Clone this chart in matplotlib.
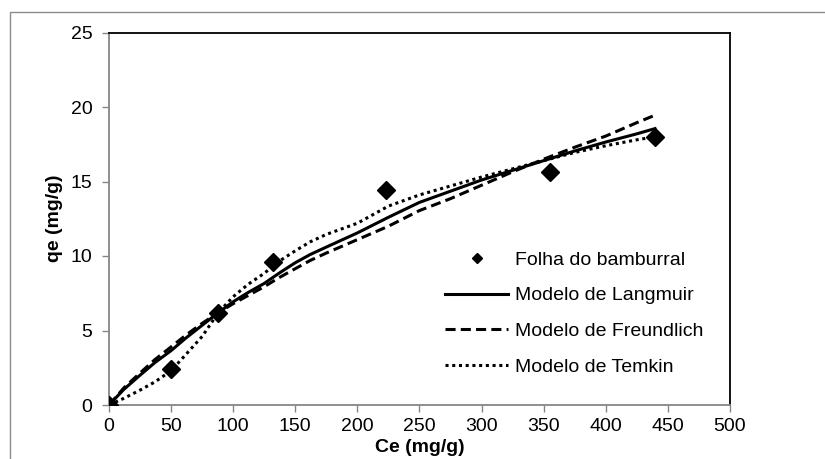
import matplotlib
matplotlib.use("Agg")
import matplotlib.pyplot as plt
from matplotlib.patches import Rectangle

plt.rcParams['font.family'] = ['Liberation Sans', 'DejaVu Sans']

# Experimental data
ce_data = [0, 49.7, 88, 131.8, 223, 355, 439.6]
qe_data = [0, 2.4, 6.19, 9.62, 14.43, 15.62, 18.0]

# Model curves
ce_model = [0, 12, 25, 37, 50, 62, 75, 88, 100, 112, 125, 137, 150, 162, 175,
            200, 225, 250, 275, 300, 325, 350, 375, 400, 425, 439.6]
q_langmuir = [0, 1.05, 2.0, 2.85, 3.65, 4.5, 5.35, 6.2, 6.93, 7.55, 8.16, 8.85,
              9.55, 10.1, 10.6, 11.55, 12.6, 13.6, 14.35, 15.1, 15.75, 16.4,
              17.05, 17.65, 18.2, 18.55]
q_freundlich = [0, 1.15, 2.15, 3.05, 3.9, 4.7, 5.48, 6.2, 6.8, 7.35, 7.94, 8.55,
                9.15, 9.7, 10.2, 11.1, 12.0, 13.05, 13.85, 14.75, 15.65, 16.5,
                17.3, 18.05, 18.95, 19.45]
q_temkin = [0, 0.45, 1.0, 1.55, 2.3, 3.4, 4.6, 6.2, 7.27, 8.1, 8.84, 9.65,
            10.35, 10.95, 11.45, 12.2, 13.35, 14.1, 14.7, 15.3, 15.85, 16.4,
            16.95, 17.4, 17.8, 18.0]

labels = ["Folha do bamburral", "Modelo de Langmuir", "Modelo de Freundlich",
          "Modelo de Temkin"]
x_ticks = [0, 50, 100, 150, 200, 250, 300, 350, 400, 450, 500]
y_ticks = [0, 5, 10, 15, 20, 25]

W, H = 825, 459
fig = plt.figure(figsize=(W / 100, H / 100), dpi=100)
ax = fig.add_axes([109 / W, 1 - 405 / H, (730 - 109) / W, (405 - 32.5) / H])

# outer chart-area frame (cut by the image on right/bottom)
fig.patches.append(Rectangle((10 / W, -0.2), 2, 1.2 - 12 / H,
                             transform=fig.transFigure, fill=False,
                             edgecolor='#8c8c8c', lw=1.0))

lw = 2.2
ax.plot(ce_data, qe_data, linestyle='none', marker='D', markersize=9.2,
        color='black', label=labels[0], zorder=4)
ax.plot(ce_model, q_langmuir, color='black', lw=lw, label=labels[1],
        solid_joinstyle='round', zorder=3)
ax.plot(ce_model, q_freundlich, color='black', lw=lw, linestyle=(0, (3.3, 1.7)),
        dash_capstyle='butt', label=labels[2], zorder=3)
ax.plot(ce_model, q_temkin, color='black', lw=lw, linestyle=(0, (1, 1.2)),
        dash_capstyle='butt', label=labels[3], zorder=3)

ax.set_xlim(0, 500)
ax.set_ylim(0, 25)
ax.set_xticks(x_ticks)
ax.set_yticks(y_ticks)

gray = '#868686'
for s in ['left', 'bottom']:
    ax.spines[s].set_color(gray)
    ax.spines[s].set_linewidth(1.3)
for s in ['top', 'right']:
    ax.spines[s].set_color('black')
    ax.spines[s].set_linewidth(1.3)

ax.tick_params(axis='both', direction='out', length=5, width=1, color=gray,
               labelsize=14, labelcolor='black')
ax.tick_params(axis='y', pad=7)
ax.tick_params(axis='x', pad=4.5)

ax.set_xlabel("Ce (mg/g)", fontsize=14, fontweight='bold')
ax.xaxis.set_label_coords(0.5, -0.092)
ax.xaxis.label.set_va('top')
ax.set_ylabel("qe (mg/g)", fontsize=14, fontweight='bold')
ax.yaxis.set_label_coords(-0.087, 0.5)
ax.yaxis.label.set_va('center')

ax.legend(loc='upper left', bbox_to_anchor=(445 / W, 1 - 251 / H),
          bbox_transform=fig.transFigure, frameon=False, fontsize=14,
          borderpad=0, borderaxespad=0, handlelength=3.25, handletextpad=0.35,
          labelspacing=0.93, markerscale=0.6)

fig.savefig("out.png", dpi=100)
